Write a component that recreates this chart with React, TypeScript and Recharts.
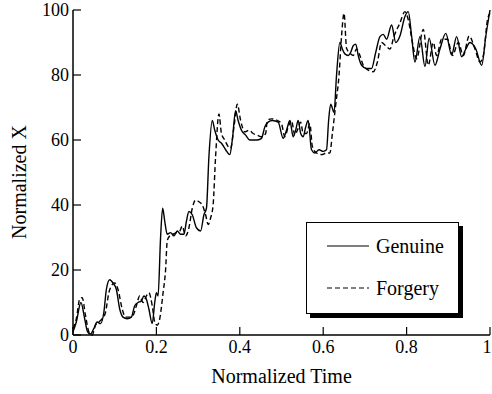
import React from "react";
import { LineChart, Line, XAxis, YAxis } from "recharts";

// Genuine signature trace (normalized time vs normalized X)
const genuineTime = [
  0, 0.008, 0.019, 0.028, 0.035, 0.042, 0.05, 0.058, 0.066, 0.074, 0.08, 0.088, 0.096, 0.104, 0.112, 0.12,
  0.13, 0.14, 0.148, 0.156, 0.164, 0.17, 0.176, 0.182, 0.19, 0.196, 0.2, 0.204, 0.21, 0.215, 0.22, 0.226,
  0.234, 0.242, 0.25, 0.258, 0.266, 0.272, 0.278, 0.286, 0.296, 0.306, 0.314, 0.32, 0.326, 0.334, 0.34, 0.348,
  0.356, 0.366, 0.376, 0.382, 0.39, 0.396, 0.404, 0.414, 0.424, 0.432, 0.442, 0.452, 0.46, 0.468, 0.478, 0.492,
  0.504, 0.512, 0.52, 0.528, 0.534, 0.54, 0.546, 0.552, 0.558, 0.564, 0.572, 0.58, 0.59, 0.6, 0.608, 0.613,
  0.618, 0.626, 0.632, 0.64, 0.646, 0.652, 0.66, 0.666, 0.672, 0.678, 0.684, 0.692, 0.704, 0.716, 0.726, 0.736,
  0.744, 0.752, 0.764, 0.774, 0.784, 0.796, 0.804, 0.812, 0.82, 0.832, 0.844, 0.854, 0.868, 0.88, 0.894, 0.908,
  0.92, 0.932, 0.942, 0.952, 0.966, 0.98, 0.99, 1,
];
const genuineX = [
  1, 4, 10, 5, 1, 0.3, 2, 4, 3.5, 7, 14, 17, 16, 14, 8, 5.5,
  5, 5.5, 9, 10, 10.5, 12, 11, 8, 3.5, 10, 13, 12, 30, 39, 35, 31,
  31.5, 30.5, 32, 31, 31, 35, 38, 37, 33, 32, 37, 39, 55, 66, 63, 60,
  59, 57, 55.5, 60, 69, 66, 63, 61.5, 60, 60, 60, 60.5, 64, 65.5, 66, 65.5,
  60.5, 63, 66, 61, 63, 66, 62, 61, 64, 66, 57, 56, 57, 56.5, 57, 66,
  71, 68.5, 80, 90, 88, 86.5, 86, 87, 89, 89.5, 86, 83, 82, 82, 87, 91.8,
  92.5, 91, 95.4, 90, 92, 98, 99.5, 92, 84, 91.8, 82.6, 91.3, 83, 88, 92.8, 86.2,
  91.8, 85.6, 88, 90, 88, 83, 92, 100,
];

// Forgery trace
const forgeryTime = [
  0, 0.008, 0.016, 0.022, 0.03, 0.038, 0.046, 0.054, 0.062, 0.07, 0.078, 0.086, 0.094, 0.1, 0.108, 0.118,
  0.126, 0.136, 0.144, 0.152, 0.16, 0.168, 0.176, 0.182, 0.19, 0.196, 0.202, 0.208, 0.216, 0.222, 0.226, 0.232,
  0.24, 0.248, 0.256, 0.262, 0.27, 0.278, 0.286, 0.294, 0.302, 0.31, 0.318, 0.324, 0.33, 0.336, 0.342, 0.35,
  0.356, 0.364, 0.372, 0.378, 0.386, 0.394, 0.402, 0.412, 0.422, 0.432, 0.442, 0.452, 0.462, 0.466, 0.476, 0.49,
  0.5, 0.508, 0.516, 0.524, 0.532, 0.538, 0.546, 0.552, 0.56, 0.568, 0.574, 0.584, 0.596, 0.608, 0.616, 0.622,
  0.63, 0.638, 0.644, 0.65, 0.656, 0.664, 0.672, 0.68, 0.688, 0.696, 0.708, 0.72, 0.73, 0.74, 0.75, 0.76,
  0.77, 0.784, 0.796, 0.804, 0.814, 0.824, 0.84, 0.852, 0.864, 0.872, 0.884, 0.898, 0.91, 0.924, 0.936, 0.95,
  0.964, 0.976, 0.984, 0.994, 1,
];
const forgeryX = [
  2, 5, 11, 11.5, 6, 1, 0, 3, 4, 5, 7, 13, 15.5, 16, 14, 8,
  5.5, 5.5, 6, 9, 12, 10, 12, 13, 9, 4, 3, 5, 13, 20, 29, 30.5,
  31, 31.5, 32, 33.5, 30.5, 33, 39, 41.5, 41, 40, 37, 34, 36, 40, 55, 68,
  62, 60, 58, 57.5, 64, 71, 66, 62.5, 63, 62, 61.5, 61, 62, 66, 66.5, 66,
  65, 61, 64, 66, 61.5, 63, 65.5, 62, 62, 65, 58, 56, 55.5, 56, 56, 62,
  70.8, 80, 92, 99, 88.2, 86.7, 86, 88, 86, 83, 81.5, 81, 84, 90, 89, 88,
  92, 96, 99.5, 97, 90, 85, 94, 83, 90, 86, 91, 91, 86, 90, 86, 92,
  88, 84, 86, 97, 99,
];

const xTicks = [0, 0.2, 0.4, 0.6, 0.8, 1];
const yTicks = [0, 20, 40, 60, 80, 100];

const genuine = genuineTime.map((t, i) => ({ t, x: genuineX[i] }));
const forgery = forgeryTime.map((t, i) => ({ t, x: forgeryX[i] }));

const FONT = "'Times New Roman', Times, 'Liberation Serif', Tinos, 'DejaVu Serif', serif";
const serif = (size: number) => ({ fontFamily: FONT, fontSize: size });
const TICK = 8;

const BottomTick = (props: any) => {
  const { x, y, payload, index } = props;
  const tx = index === xTicks.length - 1 ? x - 3 : x;
  return (
    <g>
      <line x1={x} y1={y} x2={x} y2={y - TICK} stroke="#000" strokeWidth={1.2} />
      <text x={tx} y={y + 18} textAnchor="middle" style={serif(18)} fill="#000">
        {payload.value}
      </text>
    </g>
  );
};

const TopTick = (props: any) => {
  const { x, y } = props;
  return <line x1={x} y1={y} x2={x} y2={y + TICK} stroke="#000" strokeWidth={1.2} />;
};

const LeftTick = (props: any) => {
  const { x, y, payload } = props;
  return (
    <g>
      <line x1={x} y1={y} x2={x + TICK} y2={y} stroke="#000" strokeWidth={1.2} />
      <text x={x - 4} y={y + 6} textAnchor="end" style={serif(18)} fill="#000">
        {payload.value}
      </text>
    </g>
  );
};

const RightTick = (props: any) => {
  const { x, y } = props;
  return <line x1={x} y1={y} x2={x - TICK} y2={y} stroke="#000" strokeWidth={1.2} />;
};

const Legend = () => (
  <div
    style={{
      position: "absolute",
      left: 306,
      top: 222,
      width: 151,
      height: 90,
      border: "1px solid #000",
      background: "#fff",
      boxShadow: "4px 4px 0 #000",
    }}
  >
    <svg width={151} height={90} style={{ display: "block" }}>
      <line x1={20} y1={23} x2={62} y2={23} stroke="#000" strokeWidth={1.2} />
      <text x={69} y={30} style={serif(20)} fill="#000">
        Genuine
      </text>
      <line x1={20} y1={65} x2={62} y2={65} stroke="#000" strokeWidth={1.2} strokeDasharray="5 3" />
      <text x={69} y={72} style={serif(20)} fill="#000">
        Forgery
      </text>
    </svg>
  </div>
);

export default function App() {
  return (
    <div
      style={{
        position: "absolute",
        left: 0,
        top: 0,
        width: 492,
        height: 394,
        background: "#fff",
        fontFamily: FONT,
      }}
    >
      <LineChart width={492} height={394} margin={{ top: 10, right: 2, bottom: 0, left: 0 }}>
        <XAxis
          dataKey="t"
          type="number"
          domain={[0, 1]}
          ticks={xTicks}
          interval={0}
          height={59}
          tickSize={0}
          tickMargin={0}
          tick={BottomTick}
          axisLine={{ stroke: "#000", strokeWidth: 1.5 }}
          label={(p: any) => {
            const vb = p.viewBox;
            return (
              <text x={vb.x + vb.width / 2} y={383} textAnchor="middle" style={serif(20)} fill="#000">
                Normalized Time
              </text>
            );
          }}
        />
        <XAxis
          xAxisId="top"
          orientation="top"
          dataKey="t"
          type="number"
          domain={[0, 1]}
          ticks={xTicks}
          interval={0}
          height={0}
          tickSize={0}
          tick={TopTick}
          axisLine={{ stroke: "#000", strokeWidth: 1.5 }}
        />
        <YAxis
          type="number"
          domain={[0, 100]}
          ticks={yTicks}
          interval={0}
          width={73}
          tickSize={0}
          tickMargin={0}
          tick={LeftTick}
          axisLine={{ stroke: "#000", strokeWidth: 1.5 }}
          label={() => {
            const cy = 182;
            return (
              <text
                x={26}
                y={cy}
                transform={`rotate(-90 26 ${cy})`}
                textAnchor="middle"
                style={serif(20)}
                fill="#000"
              >
                Normalized X
              </text>
            );
          }}
        />
        <YAxis
          yAxisId="right"
          orientation="right"
          type="number"
          domain={[0, 100]}
          ticks={yTicks}
          interval={0}
          width={0}
          tickSize={0}
          tick={RightTick}
          axisLine={{ stroke: "#000", strokeWidth: 1.5 }}
        />
        <Line
          data={genuine}
          dataKey="x"
          type="monotone"
          stroke="#000"
          strokeWidth={1.4}
          dot={false}
          isAnimationActive={false}
        />
        <Line
          data={forgery}
          dataKey="x"
          type="monotone"
          stroke="#000"
          strokeWidth={1.4}
          strokeDasharray="5 3"
          dot={false}
          isAnimationActive={false}
        />
      </LineChart>
      <Legend />
    </div>
  );
}
